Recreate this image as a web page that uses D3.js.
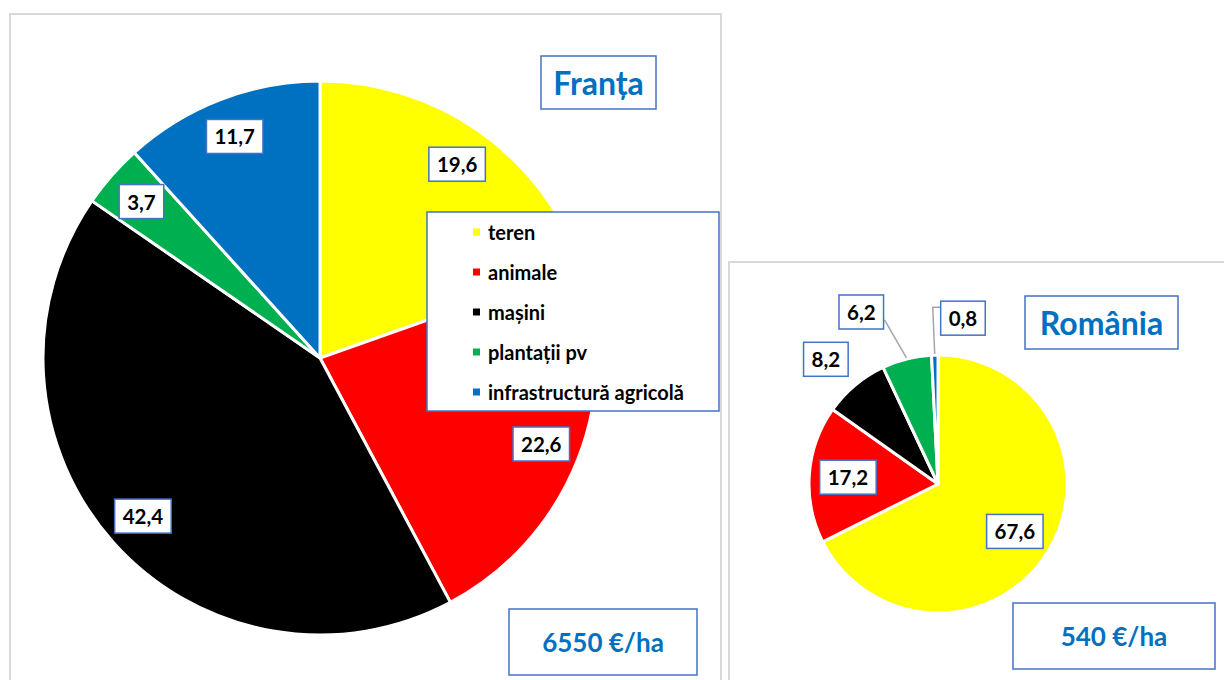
<!DOCTYPE html>
<html>
<head>
<meta charset="utf-8">
<script src="https://cdn.jsdelivr.net/npm/d3@7"></script>
<style>
  html, body { margin: 0; padding: 0; background: #ffffff; }
  svg { display: block; }
  text { font-family: Lato, "Open Sans", sans-serif; font-weight: 700; }
</style>
</head>
<body>
<svg id="chart" width="1224" height="680"></svg>
<script>
// ---------- data ----------
const categories = ["teren", "animale", "mașini", "plantații pv", "infrastructură agricolă"];
const sliceColors = ["#FFFF00", "#FF0000", "#000000", "#00B050", "#0070C0"];
const franceValues = [19.6, 22.6, 42.4, 3.7, 11.7];
const romaniaValues = [67.6, 17.2, 8.2, 6.2, 0.8];
const panelTitles = ["Franța", "România"];
const panelTotals = ["6550 €/ha", "540 €/ha"];

// ---------- helpers ----------
const svg = d3.select("#chart");
const BOX = "#4472C4";
const TITLE = "#0070C0";
const locale = d3.formatLocale({decimal: ",", thousands: ".", grouping: [3], currency: ["", "€"]});
const fmt = locale.format(".1f");
const color = d3.scaleOrdinal().domain(categories).range(sliceColors);
const pie = d3.pie().sort(null).value(d => d.value);

function boxedText(g, x, y, txt, opts) {
  const grp = g.append("g");
  const t = grp.append("text")
    .attr("x", x).attr("y", y)
    .attr("text-anchor", "middle")
    .attr("dominant-baseline", "central")
    .attr("font-size", opts.size)
    .attr("fill", opts.color)
    .text(txt);
  const w = opts.w || (t.node().getComputedTextLength() + opts.padX * 2);
  const h = opts.h;
  grp.insert("rect", "text")
    .attr("x", x - w / 2).attr("y", y - h / 2)
    .attr("width", w).attr("height", h)
    .attr("fill", "#fff").attr("stroke", BOX).attr("stroke-width", 1.5);
  return {left: x - w / 2, right: x + w / 2, top: y - h / 2, bottom: y + h / 2};
}

function panelFrame(x, y, w, h) {
  svg.append("rect").attr("x", x).attr("y", y).attr("width", w).attr("height", h)
    .attr("fill", "#fff").attr("stroke", "#d9d9d9").attr("stroke-width", 2);
}

function drawPie(values, cx, cy, R, labelPlacer) {
  const data = categories.map((c, i) => ({cat: c, value: values[i]}));
  const arcs = pie(data);
  const g = svg.append("g").attr("transform", `translate(${cx},${cy})`);
  const arc = d3.arc().innerRadius(0).outerRadius(R);
  g.selectAll("path.slice").data(arcs).join("path")
    .attr("class", "slice")
    .attr("d", arc)
    .attr("fill", d => color(d.data.cat))
    .attr("stroke", "#fff").attr("stroke-width", 3).attr("stroke-linejoin", "round");
  const lg = svg.append("g").attr("transform", `translate(${cx},${cy})`);
  arcs.forEach((a, i) => labelPlacer(lg, a, i, R));
  return g;
}

// ---------- France panel ----------
panelFrame(10, 14, 711, 700);
{
  const cx = 320, cy = 358, R = 277;
  const labelArc = d3.arc().innerRadius(R * 0.857).outerRadius(R * 0.857);
  drawPie(franceValues, cx, cy, R, (lg, a) => {
    const [x, y] = labelArc.centroid(a);
    boxedText(lg, x, y, fmt(a.data.value), {size: 20.5, color: "#000", padX: 8, h: 34});
  });

  boxedText(svg, 598.5, 82.5, panelTitles[0], {size: 32, color: TITLE, w: 115, h: 53});

  // legend
  const lgX = 427, lgY = 212, lgW = 292, lgH = 199;
  const leg = svg.append("g");
  leg.append("rect").attr("x", lgX).attr("y", lgY).attr("width", lgW).attr("height", lgH)
    .attr("fill", "#fff").attr("stroke", BOX).attr("stroke-width", 1.5);
  const rowY = d3.scalePoint().domain(categories).range([lgY + 20, lgY + 180]);
  const items = leg.selectAll("g.item").data(categories).join("g").attr("class", "item")
    .attr("transform", d => `translate(0,${rowY(d)})`);
  items.append("rect").attr("x", 473).attr("y", -3.5).attr("width", 7).attr("height", 7)
    .attr("fill", d => color(d));
  items.append("text").attr("x", 488).attr("y", 0).attr("dominant-baseline", "central")
    .attr("font-size", 20).attr("fill", "#000").text(d => d);

  boxedText(svg, 603, 642, panelTotals[0], {size: 26, color: TITLE, w: 188, h: 66});
}

// ---------- Romania panel ----------
panelFrame(729, 262, 520, 500);
{
  const cx = 938, cy = 484, R = 129;
  const insideArc = d3.arc().innerRadius(R * 0.7).outerRadius(R * 0.7);
  // manual label placement (as dragged in the original): angle shift (deg), radius factor
  const outsideLayout = {2: [-2, 1.3], 3: [-10, 1.46], 4: [10, 1.3]};
  drawPie(romaniaValues, cx, cy, R, (lg, a, i) => {
    const txt = fmt(a.data.value);
    if (a.data.value >= 10) {
      const [x, y] = insideArc.centroid(a);
      boxedText(lg, x, y, txt, {size: 20.5, color: "#000", padX: 8, h: 34});
      return;
    }
    const mid = (a.startAngle + a.endAngle) / 2;
    const [da, rf] = outsideLayout[i];
    const ang = mid + da * Math.PI / 180;
    const x = Math.sin(ang) * R * rf, y = -Math.cos(ang) * R * rf;
    const b = boxedText(lg, x, y, txt, {size: 20.5, color: "#000", padX: 8, h: 34});
    // leader line from slice edge to box
    const px = Math.sin(mid) * (R + 1), py = -Math.cos(mid) * (R + 1);
    const nx = Math.max(b.left, Math.min(px, b.right));
    const ny = Math.max(b.top, Math.min(py, b.bottom));
    const dist = Math.hypot(px - nx, py - ny);
    if (dist < 15) return;
    let pts;
    if (px < b.left && b.left - px < 15) {
      pts = [[px, py], [px - 2, b.top + 6], [b.left, b.top + 6]];
    } else {
      pts = [[px, py], [b.right + 1, b.bottom - 9]];
    }
    lg.insert("path", "g").attr("d", d3.line()(pts))
      .attr("fill", "none").attr("stroke", "#A6A6A6").attr("stroke-width", 1.5);
  });

  boxedText(svg, 1101.5, 322.5, panelTitles[1], {size: 32, color: TITLE, w: 153, h: 53});
  boxedText(svg, 1114, 636, panelTotals[1], {size: 26, color: TITLE, w: 202, h: 66});
}
</script>
</body>
</html>
